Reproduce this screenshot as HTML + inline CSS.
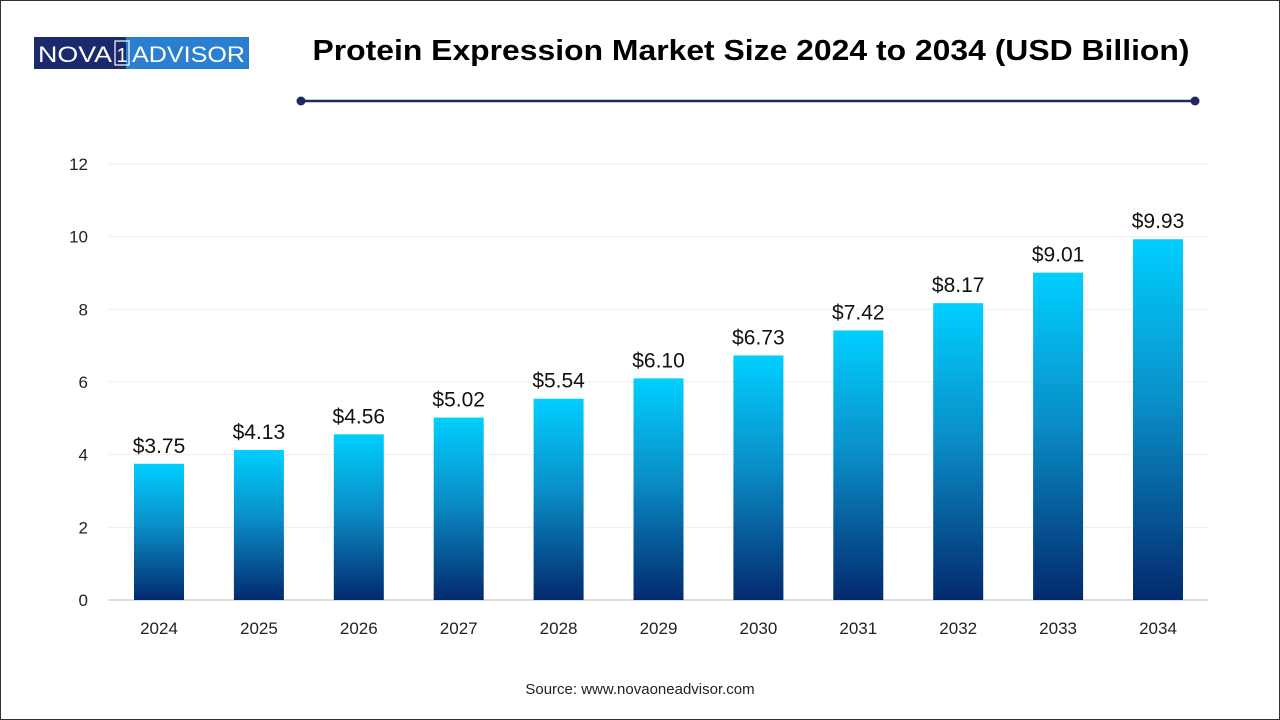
<!DOCTYPE html>
<html><head><meta charset="utf-8"><style>
html,body{margin:0;padding:0;background:#fff}
body{width:1280px;height:720px;position:relative;overflow:hidden;font-family:"Liberation Sans",sans-serif}
.frame{position:absolute;left:0;top:0;width:1278px;height:718px;border:1px solid #333}
</style></head><body>
<div class="frame"></div>
<svg id="chart" width="1280" height="720" style="position:absolute;left:0;top:0">
<defs><linearGradient id="g" x1="0" y1="0" x2="0" y2="1">
<stop offset="0" stop-color="#00cfff"/><stop offset="0.45" stop-color="#0a8fc8"/><stop offset="1" stop-color="#032a6e"/></linearGradient></defs>
<g>
<rect x="34" y="37" width="92" height="32" fill="#1a2a6c"/>
<rect x="126" y="37" width="123" height="32" fill="#2a7fd0"/>
<rect x="115" y="41" width="14" height="24" fill="none" stroke="#fff" stroke-width="1.2"/>
<text x="38" y="62" font-size="22" fill="#fff" textLength="74" lengthAdjust="spacingAndGlyphs">NOVA</text>
<text x="122" y="62" font-size="20" fill="#fff" text-anchor="middle">1</text>
<text x="132" y="62" font-size="22" fill="#fff" textLength="113" lengthAdjust="spacingAndGlyphs">ADVISOR</text>
</g>
<text x="751" y="60" text-anchor="middle" font-size="29" font-weight="bold" fill="#000" textLength="877" lengthAdjust="spacingAndGlyphs">Protein Expression Market Size 2024 to 2034 (USD Billion)</text>
<line x1="301" y1="101" x2="1195" y2="101" stroke="#1f2a5c" stroke-width="2.5"/>
<circle cx="301" cy="101" r="4.5" fill="#1f2a5c"/><circle cx="1195" cy="101" r="4.5" fill="#1f2a5c"/>
<g id="grid"></g><g id="bars"></g>
<text x="640" y="694" text-anchor="middle" font-size="15" fill="#222">Source: www.novaoneadvisor.com</text>
</svg>
<script>
const categories=["2024","2025","2026","2027","2028","2029","2030","2031","2032","2033","2034"];
const values=[3.75,4.13,4.56,5.02,5.54,6.10,6.73,7.42,8.17,9.01,9.93];
const labels=["$3.75","$4.13","$4.56","$5.02","$5.54","$6.10","$6.73","$7.42","$8.17","$9.01","$9.93"];
const yTicks=[0,2,4,6,8,10,12];
const NS="http://www.w3.org/2000/svg";
const y=v=>600-v*(436/12);
const x=i=>159+i*99.9;
function mk(t,a,p,txt){const e=document.createElementNS(NS,t);for(const k in a)e.setAttribute(k,a[k]);if(txt!==undefined)e.textContent=txt;p.appendChild(e);return e;}
const grid=document.getElementById('grid'),bars=document.getElementById('bars');
yTicks.forEach(t=>{
 const l=mk('line',{x1:108,x2:1208,y1:y(t),y2:y(t),stroke:t===0?'#bbb':'#eee','stroke-width':1},grid);
 
 
 const tx=mk('text',{x:88,y:y(t)+6,'text-anchor':'end','font-size':17,fill:'#222'},grid,String(t));
 
 
});
categories.forEach((c,i)=>{
 const r=mk('rect',{x:x(i)-25,y:y(values[i]),width:50,height:600-y(values[i]),fill:'url(#g)'},bars);
 
 
 const v=mk('text',{x:x(i),y:y(values[i])-11,'text-anchor':'middle','font-size':21,fill:'#111'},bars,labels[i]);
 
 
 const xl=mk('text',{x:x(i),y:634,'text-anchor':'middle','font-size':17,fill:'#222'},bars,c);
 
 
});
</script>
</body></html>
